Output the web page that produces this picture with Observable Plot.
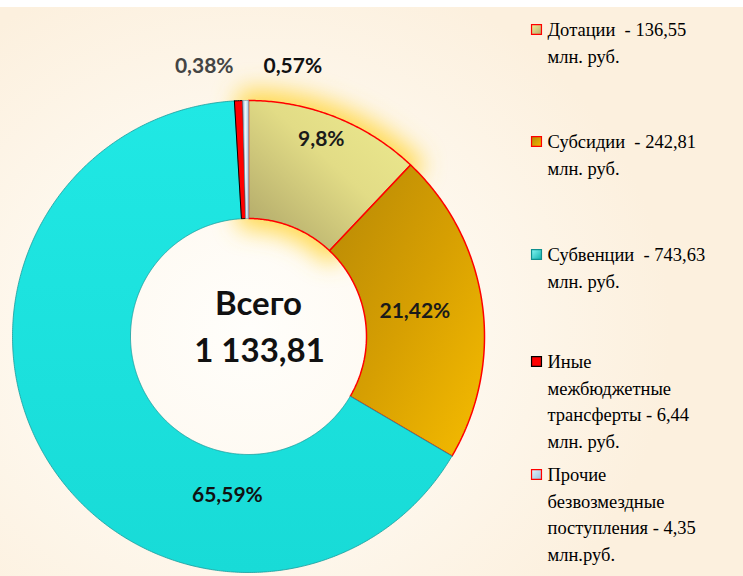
<!DOCTYPE html>
<html>
<head>
<meta charset="utf-8">
<script src="https://cdn.jsdelivr.net/npm/d3@7"></script>
<script src="https://cdn.jsdelivr.net/npm/@observablehq/plot@0.6"></script>
<style>
  html, body { margin: 0; padding: 0; }
  #wrap {
    position: relative; width: 743px; height: 576px; overflow: hidden;
    background:
      linear-gradient(#ffffff 0 7px, rgba(255,255,255,0) 7px),
      radial-gradient(ellipse 420px 380px at 250px 330px, #fffefb 0%, #fef9f0 45%, #fcf0de 100%);
  }
</style>
</head>
<body>
<div id="wrap"></div>
<script>
// ---- data ----
const categories = ["Дотации", "Субсидии", "Субвенции", "Иные межбюджетные трансферты", "Прочие безвозмездные поступления"];
const values = [136.55, 242.81, 743.63, 6.44, 4.35];
const pctLabels = ["9,8%", "21,42%", "65,59%", "0,57%", "0,38%"];
const totalLabel = ["Всего", "1 133,81"];
const legendLines = [
  ["Дотации  - 136,55", "млн. руб."],
  ["Субсидии  - 242,81", "млн. руб."],
  ["Субвенции  - 743,63", "млн. руб."],
  ["Иные", "межбюджетные", "трансферты - 6,44", "млн. руб."],
  ["Прочие", "безвозмездные", "поступления - 4,35", "млн.руб."]
];

// ---- layout / style ----
const innerFrac = 0.5;
const sliceStyle = [
  {fill: "url(#gDot)", stroke: "#ff0000", strokeWidth: 1.5},
  {fill: "url(#gSub)", stroke: "#ff0000", strokeWidth: 1.5},
  {fill: "url(#gSubv)", stroke: "#1a9c9c", strokeWidth: 0.8},
  {fill: "#ff0000", stroke: "#000000", strokeWidth: 1},
  {fill: "url(#gPro)", stroke: "#8aa0b0", strokeWidth: 0.8}
];
const markerStyle = [
  {fill: "url(#mDot)", stroke: "#ff0000"},
  {fill: "url(#mSub)", stroke: "#ff0000"},
  {fill: "url(#mSubv)", stroke: "#0f8f8f"},
  {fill: "#ff0000", stroke: "#000000"},
  {fill: "url(#mPro)", stroke: "#ff0000"}
];
// label anchors: [angle in degrees clockwise from top, radius as fraction of outer radius]
const labelAnchor = [[20.3, 0.889], [81.4, 0.713], [187.6, 0.677], [9.3, 1.161], [-9.3, 1.161]];
const labelColor = ["#1a1a1a", "#1a1a1a", "#111111", "#111111", "#444444"];
const legendBaseline = [37, 149, 262, 369, 482];
const legendTextLeft = 547, legendMarkerCenter = 536;
const labelFont = "Lato, 'Open Sans', sans-serif";
const legendFont = "'Liberation Serif', 'Times New Roman', serif";
const legendSize = 18.5;

// ---- geometry from values ----
const total = d3.sum(values);
let acc = 0;
const slices = values.map((v, i) => {
  const a0 = acc / total * 2 * Math.PI;
  acc += v;
  const a1 = acc / total * 2 * Math.PI;
  return {name: categories[i], a0, a1};
});
function ring(a0, a1, r0, r1) {
  const n = Math.max(2, Math.ceil((a1 - a0) / (Math.PI / 360)));
  const pts = [];
  for (let i = 0; i <= n; i++) { const a = a0 + (a1 - a0) * i / n; pts.push([r1 * Math.sin(a), r1 * Math.cos(a)]); }
  for (let i = n; i >= 0; i--) { const a = a0 + (a1 - a0) * i / n; pts.push([r0 * Math.sin(a), r0 * Math.cos(a)]); }
  pts.push(pts[0]);
  return pts;
}
const polys = slices.map(s => ring(s.a0, s.a1, innerFrac, 1));

const labels = pctLabels.map((t, i) => {
  const a = labelAnchor[i][0] * Math.PI / 180, r = labelAnchor[i][1];
  return {text: t, x: r * Math.sin(a), y: r * Math.cos(a), color: labelColor[i]};
});

const marks = [
  Plot.line(polys[0], {x: d => d[0], y: d => d[1], fill: "#ffd84a", stroke: "#ffd84a", strokeWidth: 26, strokeOpacity: 0.8, fillOpacity: 0.9, ariaDescription: "glow"})
];
polys.forEach((p, i) => {
  marks.push(Plot.line(p, {x: d => d[0], y: d => d[1], curve: "linear", strokeLinejoin: "miter", ...sliceStyle[i]}));
});
marks.push(Plot.text(labels, {x: "x", y: "y", text: "text", fill: d => d.color, fontFamily: labelFont, fontWeight: "bold", fontSize: 21}));
marks.push(Plot.text([totalLabel[0]], {x: () => 0, y: () => 0, text: d => d, dx: 10, dy: -32, fontFamily: labelFont, fontWeight: "bold", fontSize: 33, fill: "#111"}));
marks.push(Plot.text([totalLabel[1]], {x: () => 0, y: () => 0, text: d => d, dx: 11, dy: 15, fontFamily: labelFont, fontWeight: "bold", fontSize: 33, fill: "#111"}));

// legend (text + square markers), placed relative to the frame's top-left corner
legendLines.forEach((lines, i) => {
  marks.push(Plot.text([lines.join("\n")], {
    frameAnchor: "top-left", text: d => d, textAnchor: "start", lineAnchor: "top",
    dx: legendTextLeft, dy: legendBaseline[i] - 0.71 * legendSize - 7,
    lineHeight: 26.5 / legendSize, fontFamily: legendFont, fontSize: legendSize, fill: "#000"
  }));
  marks.push(Plot.dot([categories[i]], {
    frameAnchor: "top-left", symbol: "square", r: 5.6, strokeWidth: 1.2,
    dx: legendMarkerCenter, dy: legendBaseline[i] - 8, ...markerStyle[i]
  }));
});

const plot = Plot.plot({
  width: 743, height: 576, margin: 0,
  x: {domain: [-1, 1], range: [12, 484], axis: null},
  y: {domain: [-1, 1], range: [572, 100], axis: null},
  color: {type: "identity"},
  style: {background: "transparent", overflow: "visible"},
  marks
});

// gradients and glow filter
const ns = "http://www.w3.org/2000/svg";
const defs = document.createElementNS(ns, "defs");
defs.innerHTML = `
  <linearGradient id="gDot" x1="1" y1="0" x2="0" y2="1">
    <stop offset="0" stop-color="#eeec90"/><stop offset="0.45" stop-color="#e2dc86"/><stop offset="1" stop-color="#aba266"/>
  </linearGradient>
  <linearGradient id="gSub" x1="0" y1="0" x2="1" y2="1">
    <stop offset="0" stop-color="#b68806"/><stop offset="0.5" stop-color="#d69f02"/><stop offset="1" stop-color="#f6bc00"/>
  </linearGradient>
  <linearGradient id="gSubv" x1="0" y1="0" x2="0" y2="1">
    <stop offset="0" stop-color="#20e8e4"/><stop offset="1" stop-color="#18dbd7"/>
  </linearGradient>
  <linearGradient id="gPro" x1="0" y1="0" x2="1" y2="0">
    <stop offset="0" stop-color="#9cc4e0"/><stop offset="0.5" stop-color="#f2f8fc"/><stop offset="1" stop-color="#9cc4e0"/>
  </linearGradient>
  <linearGradient id="mDot" x1="0" y1="0" x2="1" y2="1"><stop offset="0" stop-color="#f2f09a"/><stop offset="1" stop-color="#b3aa68"/></linearGradient>
  <linearGradient id="mSub" x1="0" y1="0" x2="1" y2="1"><stop offset="0" stop-color="#b38606"/><stop offset="1" stop-color="#f4ba00"/></linearGradient>
  <linearGradient id="mSubv" x1="0" y1="0" x2="1" y2="1"><stop offset="0" stop-color="#86f7f4"/><stop offset="1" stop-color="#10b0ad"/></linearGradient>
  <linearGradient id="mPro" x1="0" y1="0" x2="1" y2="1"><stop offset="0" stop-color="#e8f3fb"/><stop offset="1" stop-color="#96c0de"/></linearGradient>
  <filter id="glow" x="-50%" y="-50%" width="200%" height="200%"><feGaussianBlur stdDeviation="11"/></filter>`;
plot.insertBefore(defs, plot.firstChild);
const glow = plot.querySelector('[aria-description="glow"]');
if (glow) glow.setAttribute("filter", "url(#glow)");

document.getElementById("wrap").appendChild(plot);
</script>
</body>
</html>
